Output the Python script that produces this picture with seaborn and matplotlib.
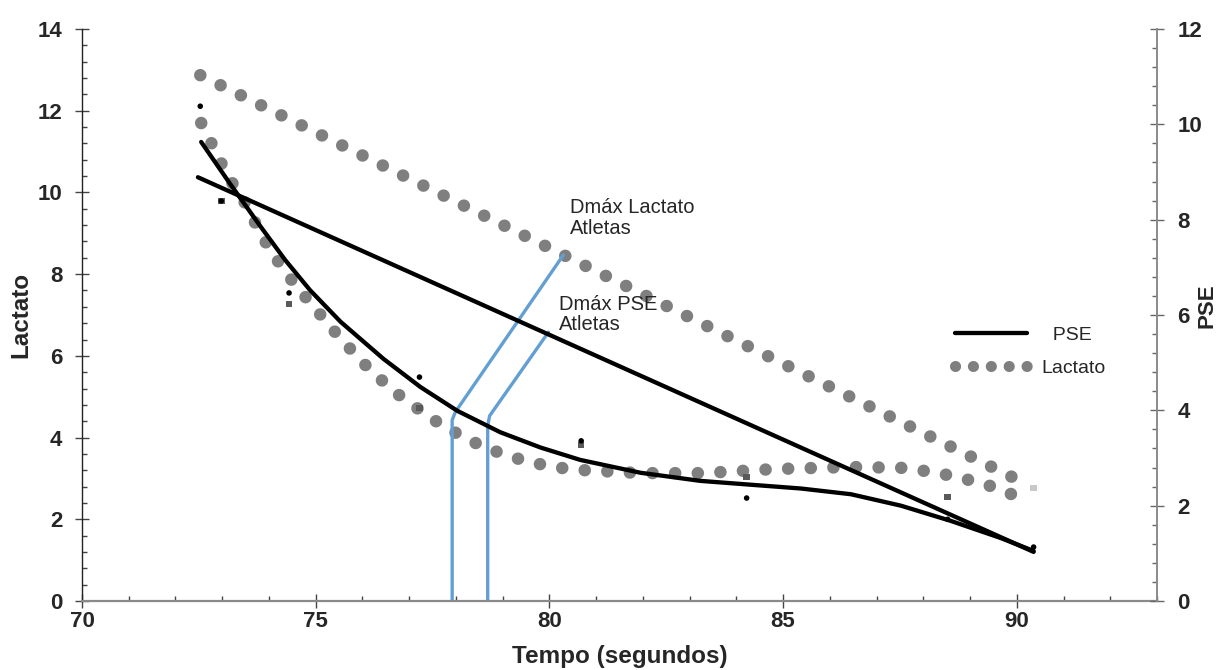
import matplotlib
matplotlib.use("Agg")
import matplotlib.pyplot as plt
from matplotlib.ticker import MultipleLocator
from matplotlib.lines import Line2D
import seaborn as sns

# ---------------- data ----------------
# Lactato Dmáx reference line (left axis)
lac_line_x = [72.53, 90.21]
lac_line_y = [12.87, 2.86]

# Lactato fitted curve (left axis)
lac_curve_x = [72.55, 72.78, 73.00, 73.25, 73.53, 73.75, 74.00, 74.28, 74.60, 74.93,
               75.52, 76.06, 76.66, 77.02, 77.43, 77.82, 78.24, 78.67, 79.12, 79.59,
               80.09, 80.60, 81.95, 83.28, 84.82, 86.45, 87.52, 88.05, 88.54, 89.06,
               89.51, 89.98]
lac_curve_y = [11.70, 11.18, 10.67, 10.16, 9.67, 9.15, 8.64, 8.17, 7.68, 7.24,
               6.44, 5.78, 5.14, 4.85, 4.50, 4.23, 3.96, 3.74, 3.55, 3.40,
               3.28, 3.21, 3.13, 3.13, 3.23, 3.28, 3.26, 3.18, 3.08, 2.94,
               2.79, 2.57]

# PSE fitted curve (right axis)
pse_curve_x = [72.55, 73.17, 73.81, 74.35, 74.88, 75.53, 76.45, 77.24, 78.03, 78.95,
               79.81, 80.66, 81.95, 83.23, 84.30, 85.38, 86.45, 87.52, 88.59, 89.66,
               90.36]
pse_curve_y = [9.63, 8.75, 7.87, 7.15, 6.52, 5.86, 5.08, 4.49, 3.99, 3.54,
               3.22, 2.96, 2.69, 2.52, 2.44, 2.36, 2.24, 2.00, 1.68, 1.32,
               1.05]

# PSE Dmáx reference line (right axis)
pse_line_x = [72.48, 90.36]
pse_line_y = [8.89, 1.03]

# measured points (left axis)
pts_dot_x = [72.53, 72.98, 74.43, 77.22, 80.68, 84.22, 88.52, 90.36]
pts_dot_y = [12.11, 9.79, 7.54, 5.48, 3.92, 2.52, 2.00, 1.32]
pts_sq_x = [72.98, 74.43, 77.22, 80.68, 84.22, 88.52]
pts_sq_y = [9.79, 7.27, 4.72, 3.82, 3.03, 2.55]
pts_sq_last_x = [90.36]
pts_sq_last_y = [2.77]

# Dmáx markers (left axis)
dmax_lac_x = [80.30, 77.99, 77.92, 77.92]
dmax_lac_y = [8.47, 4.63, 4.43, 0.0]
dmax_pse_x = [79.98, 78.72, 78.68, 78.68]
dmax_pse_y = [6.58, 4.53, 4.28, 0.0]

x_ticks = [70, 75, 80, 85, 90]
y_left_ticks = [0, 2, 4, 6, 8, 10, 12, 14]
y_right_ticks = [0, 2, 4, 6, 8, 10, 12]
legend_labels = ["  PSE", "Lactato"]

# ---------------- style ----------------
sns.set_style("white")
plt.rcParams["font.family"] = ["Liberation Sans", "DejaVu Sans"]

GRAY = "#7f7f7f"
BLUE = "#639fd1"
DOTS = (0, (0.01, 1.8))

W, H = 1219, 670
fig = plt.figure(figsize=(W / 100, H / 100), dpi=100)
ax = fig.add_axes([82 / W, 1 - 601 / H, (1157 - 82) / W, (601 - 29) / H])
ax2 = ax.twinx()

# Lactato dotted series
sns.lineplot(x=lac_line_x, y=lac_line_y, ax=ax, sort=False, estimator=None,
             color=GRAY, linewidth=9, linestyle=DOTS, dash_capstyle="round")
sns.lineplot(x=lac_curve_x, y=lac_curve_y, ax=ax, sort=False, estimator=None,
             color=GRAY, linewidth=9, linestyle=DOTS, dash_capstyle="round")

# measured points
sns.scatterplot(x=pts_sq_x, y=pts_sq_y, ax=ax, marker="s", s=22, color="#5a5a5a",
                edgecolor="none", zorder=4)
sns.scatterplot(x=pts_sq_last_x, y=pts_sq_last_y, ax=ax, marker="s", s=22,
                color="#c8c8c8", edgecolor="none", zorder=4)
sns.scatterplot(x=pts_dot_x, y=pts_dot_y, ax=ax, marker="o", s=16, color="black",
                edgecolor="none", zorder=5)

# Dmáx markers
sns.lineplot(x=dmax_lac_x, y=dmax_lac_y, ax=ax, sort=False, estimator=None,
             color=BLUE, linewidth=2.4)
sns.lineplot(x=dmax_pse_x, y=dmax_pse_y, ax=ax, sort=False, estimator=None,
             color=BLUE, linewidth=2.4)

# PSE series (right axis)
sns.lineplot(x=pse_curve_x, y=pse_curve_y, ax=ax2, sort=False, estimator=None,
             color="black", linewidth=3.1, solid_capstyle="round",
             solid_joinstyle="round")
sns.lineplot(x=pse_line_x, y=pse_line_y, ax=ax2, sort=False, estimator=None,
             color="black", linewidth=3.1, solid_capstyle="round")

# ---------------- axes ----------------
ax.set_xlim(70, 93)
ax.set_ylim(0, 14)
ax2.set_ylim(0, 12)

TICKFONT = dict(fontsize=16, fontweight="bold")
ax.set_xticks(x_ticks)
ax.set_xticklabels([str(t) for t in x_ticks], **TICKFONT)
ax.set_yticks(y_left_ticks)
ax.set_yticklabels([str(t) for t in y_left_ticks], **TICKFONT)
ax2.set_yticks(y_right_ticks)
ax2.set_yticklabels([str(t) for t in y_right_ticks], **TICKFONT)
ax.xaxis.set_minor_locator(MultipleLocator(1))
ax.yaxis.set_minor_locator(MultipleLocator(0.4))
ax2.yaxis.set_minor_locator(MultipleLocator(0.4))

ax.tick_params(axis="both", which="major", direction="inout", length=9.5, width=1,
               color="#444444")
ax.tick_params(axis="both", which="minor", direction="in", length=3.8, width=1,
               color="#444444")
ax.tick_params(axis="y", which="major", pad=9.5)
ax.tick_params(axis="x", which="major", pad=2.5)
ax2.tick_params(axis="y", which="major", direction="inout", length=9.5, width=1,
                color="#666666", pad=10)
ax2.tick_params(axis="y", which="minor", direction="in", length=3.8, width=1,
                color="#666666")
ax.xaxis.set_tick_params(which="both", bottom=True, top=False)
ax.yaxis.set_tick_params(which="both", left=True, right=False)

for s in ["top", "right"]:
    ax.spines[s].set_visible(False)
for s in ["top", "left", "bottom"]:
    ax2.spines[s].set_visible(False)
ax.spines["left"].set_color("#222222")
ax.spines["left"].set_linewidth(1.0)
ax.spines["bottom"].set_color("#8a8a8a")
ax.spines["bottom"].set_linewidth(1.6)
ax2.spines["right"].set_color("#8a8a8a")
ax2.spines["right"].set_linewidth(1.4)

ax.set_xlabel("Tempo (segundos)", fontsize=17.5, fontweight="bold", labelpad=9)
ax.set_ylabel("Lactato", fontsize=17.5, fontweight="bold", labelpad=4)
ax2.set_ylabel("")
fig.text(1218 / W, 1 - 306 / H, "PSE", rotation=90, ha="right", va="center",
         fontsize=16, fontweight="bold")

# annotations
ax.text(80.45, 9.86, "Dmáx Lactato\nAtletas", fontsize=14.5, ha="left", va="top",
        linespacing=1.1)
ax.text(80.21, 7.49, "Dmáx PSE\nAtletas", fontsize=14.5, ha="left", va="top",
        linespacing=1.1)

# legend
handles = [Line2D([], [], color="black", linewidth=3.1),
           Line2D([], [], color=GRAY, linewidth=8, linestyle=(0, (0.01, 1.6)),
                  dash_capstyle="round")]
fig.legend(handles, legend_labels, loc="upper left",
           bbox_to_anchor=(955 / W, 1 - 326 / H), frameon=False,
           fontsize=14, handlelength=3.7, handletextpad=0.75, labelspacing=0.8,
           borderpad=0, borderaxespad=0)

fig.savefig("out.png", dpi=100)
